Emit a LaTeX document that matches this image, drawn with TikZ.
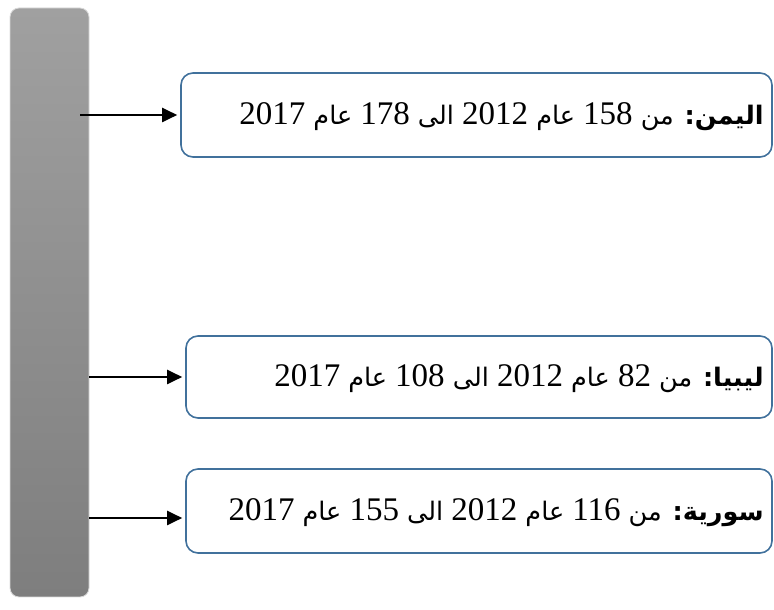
\documentclass[tikz,border=0pt]{standalone}
\usepackage{fontspec}
\setmainfont{Liberation Serif}
\newfontfamily\arabicfont[Script=Arabic]{DejaVu Sans}
\TeXXeTstate=1
\usetikzlibrary{arrows.meta,shadings}
\definecolor{boxblue}{HTML}{41719C}
\newcommand\lnum[1]{\beginL{\rmfamily\fontsize{33}{36}\selectfont #1}\endL}
\tikzset{
  databox/.style={draw=boxblue, line width=1.6pt, rounded corners=12pt, minimum width=#1, inner sep=0pt},
  label/.style={anchor=east, inner sep=0pt, font=\fontsize{25.5}{30}\selectfont},
  arr/.style={line width=2pt, -{Triangle[length=15pt,width=14pt]}, shorten >=3pt}
}
\begin{document}
\begin{tikzpicture}[x=1pt,y=1pt]
\useasboundingbox (0,0) rectangle (774,610);
\node[rounded corners=9pt, top color={rgb,255:red,160;green,160;blue,160}, bottom color={rgb,255:red,126;green,126;blue,126}, draw=gray!30, line width=0.8pt, minimum width=79pt, minimum height=589pt, inner sep=0pt] (bar) at (49.5,307.5) {};
\node[databox=591pt, minimum height=84pt] (b1) at (476.5,495) {};
\node[databox=586pt, minimum height=82pt] (b2) at (479,233) {};
\node[databox=586pt, minimum height=84pt] (b3) at (479,99) {};
\node[label] (t1) at ([xshift=-9pt,yshift=-2pt]b1.east) {\arabicfont\beginR{\bfseries اليمن:} من \lnum{158} عام \lnum{2012} الى \lnum{178} عام \lnum{2017}\endR};
\node[label] (t2) at ([xshift=-9pt,yshift=-2pt]b2.east) {\arabicfont\beginR{\bfseries ليبيا:} من \lnum{82} عام \lnum{2012} الى \lnum{108} عام \lnum{2017}\endR};
\node[label] (t3) at ([xshift=-9pt,yshift=-2pt]b3.east) {\arabicfont\beginR{\bfseries سورية:} من \lnum{116} عام \lnum{2012} الى \lnum{155} عام \lnum{2017}\endR};
\draw[arr] ([xshift=-9pt]bar.east |- b1.west) -- (b1.west);
\draw[arr] (bar.east |- b2.west) -- (b2.west);
\draw[arr] ([yshift=-7pt]bar.east |- b3.west) -- ([yshift=-7pt]b3.west);
\end{tikzpicture}
\end{document}
